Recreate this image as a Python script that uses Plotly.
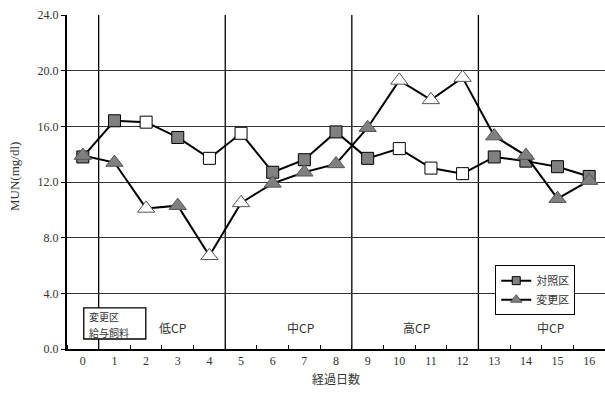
import plotly.graph_objects as go

days = list(range(17))
day_labels = [str(d) for d in days]
control = [13.8, 16.4, 16.3, 15.2, 13.7, 15.5, 12.7, 13.6, 15.6, 13.7, 14.4, 13.0, 12.6, 13.8, 13.5, 13.1, 12.4]
changed = [13.9, 13.4, 10.1, 10.3, 6.7, 10.5, 11.9, 12.7, 13.3, 15.9, 19.3, 17.9, 19.5, 15.3, 13.9, 10.8, 12.1]
# white markers = open (unfilled) points
control_open = [0, 0, 1, 0, 1, 1, 0, 0, 0, 0, 1, 1, 1, 0, 0, 0, 0]
changed_open = [0, 0, 1, 0, 1, 1, 0, 0, 0, 0, 1, 1, 1, 0, 0, 0, 0]
period_bounds = [0.5, 4.5, 8.5, 12.5]
period_labels = ["低CP", "中CP", "高CP", "中CP"]
period_label_x = [2.82, 6.87, 10.54, 14.78]
box_lines = ["変更区", "給与飼料"]
y_ticks = [0, 4, 8, 12, 16, 20, 24]

GRAY = "#808080"
serif = "Liberation Serif"
cjk = "Noto Sans CJK JP"

fig = go.Figure()
fig.add_trace(go.Scatter(
    x=days, y=control, mode="lines+markers", name="対照区", showlegend=False,
    line=dict(color="black", width=2),
    marker=dict(symbol="square", size=12,
                color=["white" if o else GRAY for o in control_open],
                line=dict(color="black", width=1)),
))
fig.add_trace(go.Scatter(
    x=days, y=changed, mode="lines+markers", name="変更区", showlegend=False,
    line=dict(color="black", width=2),
    marker=dict(symbol="triangle-up", size=15,
                color=["white" if o else GRAY for o in changed_open],
                line=dict(color="#555555", width=1)),
))
# legend entries (smaller markers, as in the reference legend)
fig.add_trace(go.Scatter(
    x=[None], y=[None], mode="lines+markers", name="対照区",
    line=dict(color="black", width=2),
    marker=dict(symbol="square", size=8, color=GRAY, line=dict(color="black", width=1)),
))
fig.add_trace(go.Scatter(
    x=[None], y=[None], mode="lines+markers", name="変更区",
    line=dict(color="black", width=2),
    marker=dict(symbol="triangle-up", size=10, color=GRAY, line=dict(color="#555555", width=1)),
))

shapes = []
for b in period_bounds:
    shapes.append(dict(type="line", xref="x", yref="y", x0=b, x1=b, y0=0, y1=24,
                       line=dict(color="black", width=1.3), layer="below"))
shapes.append(dict(type="rect", xref="x", yref="y", x0=0.03, x1=1.99, y0=0.72, y1=2.95,
                   line=dict(color="black", width=1.3), fillcolor="white", layer="above"))

annotations = [
    dict(x=0.12, y=2.32, xref="x", yref="y", text=box_lines[0], showarrow=False,
         xanchor="left", yanchor="middle",
         font=dict(family=cjk, size=10, color="#333")),
    dict(x=0.12, y=1.22, xref="x", yref="y", text=box_lines[1], showarrow=False,
         xanchor="left", yanchor="middle",
         font=dict(family=cjk, size=10, color="#333")),
    dict(x=-0.0967, y=0.518, xref="paper", yref="paper", text="MUN(mg/dl)", showarrow=False,
         textangle=-90, xanchor="center", yanchor="middle",
         font=dict(family=serif, size=13, color="#333")),
]
for lx, lt in zip(period_label_x, period_labels):
    annotations.append(dict(x=lx, y=1.58, xref="x", yref="y", text=lt, showarrow=False,
                            xanchor="center", yanchor="middle",
                            font=dict(family=cjk, size=12, color="#333")))

fig.update_layout(
    width=605, height=396,
    margin=dict(l=67, r=0, t=15, b=47),
    paper_bgcolor="white", plot_bgcolor="white",
    showlegend=True,
    legend=dict(x=0.796, y=0.251, xanchor="left", yanchor="top",
                bgcolor="white", bordercolor="black", borderwidth=1,
                font=dict(family=cjk, size=11, color="#333"),
                tracegroupgap=0, itemwidth=30),
    shapes=shapes, annotations=annotations,
    xaxis=dict(range=[-0.5, 16.5], tickvals=days, ticktext=day_labels, ticks="",
               showgrid=False, zeroline=False, showline=True, linecolor="black", linewidth=2,
               minor=dict(ticks="inside", tick0=0.5, dtick=1, ticklen=4, tickcolor="black",
                          showgrid=False),
               tickfont=dict(family=serif, size=12, color="#333"),
               title=dict(text="経過日数", font=dict(family=cjk, size=12, color="#333"), standoff=8),
               fixedrange=True),
    yaxis=dict(range=[0, 24], tickvals=y_ticks, tickformat=".1f", ticks="outside", ticklen=4,
               tickcolor="black", showgrid=True, gridcolor="#333333", gridwidth=1,
               zeroline=False, showline=True, linecolor="black", linewidth=2,
               tickfont=dict(family=serif, size=12, color="#333"),
               fixedrange=True),
)

fig.write_html("out.html", config={"displayModeBar": False},
               post_script="document.body.style.margin='0';document.body.style.overflow='hidden';")
